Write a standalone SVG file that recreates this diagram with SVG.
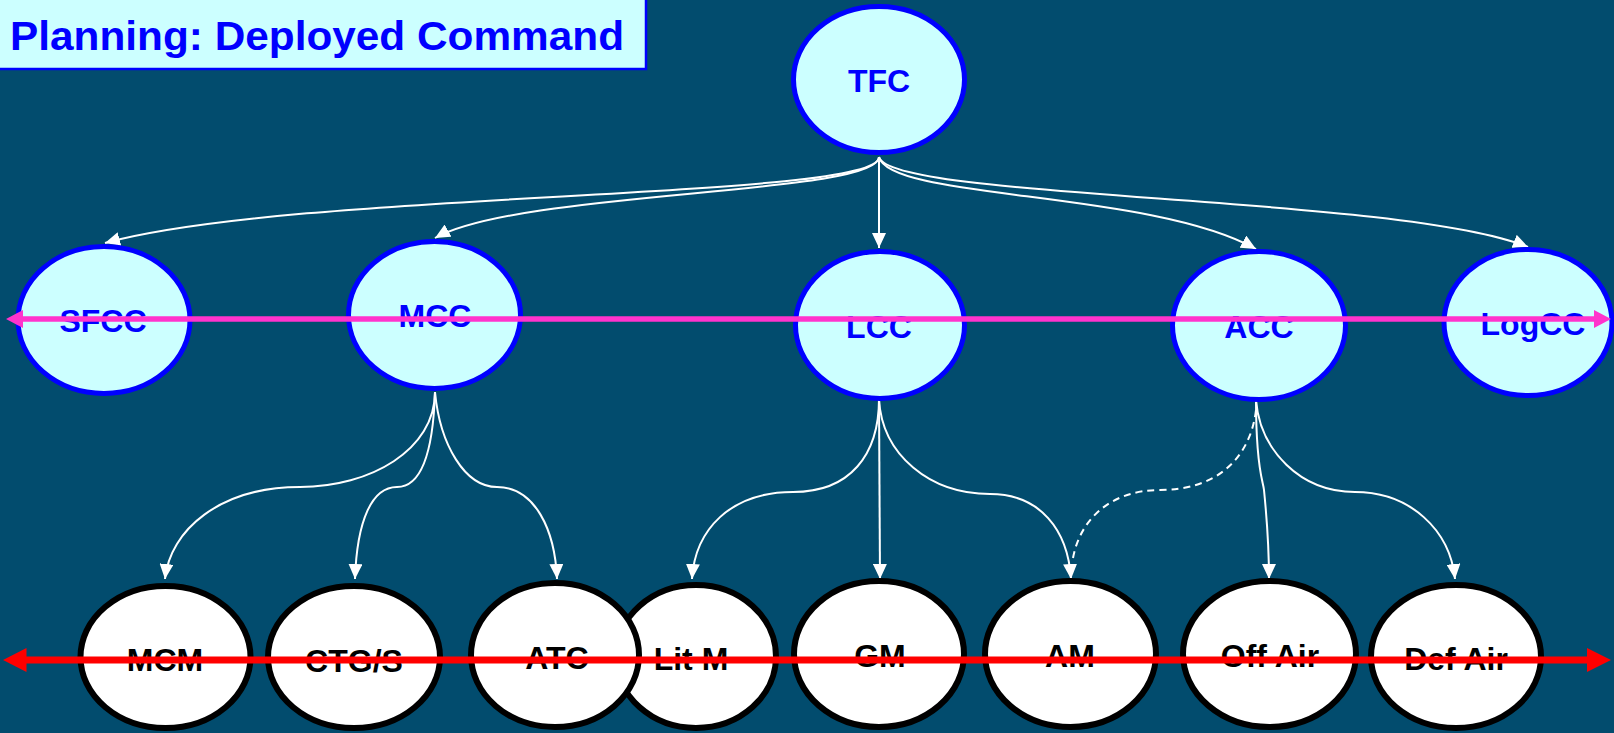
<svg xmlns="http://www.w3.org/2000/svg" width="1614" height="733" viewBox="0 0 1614 733">
<defs>
<style>
.bg{fill:#024C6E}
.top{fill:#CCFFFF;stroke:#0000FF;stroke-width:5}
.bot{fill:#FFFFFF;stroke:#000000;stroke-width:6}
.lt{font-family:"Liberation Sans",Arial,sans-serif;font-weight:bold;font-size:32px;fill:#0000FF;text-anchor:middle}
.lb{font-family:"Liberation Sans",Arial,sans-serif;font-weight:bold;font-size:32px;fill:#000000;text-anchor:middle}
.c{fill:none;stroke:#FFFFFF;stroke-width:2}
.d{stroke-dasharray:7,5}
</style>
<marker id="ah" markerUnits="userSpaceOnUse" markerWidth="15" markerHeight="14" refX="15" refY="7" orient="auto">
<path d="M0,0 L15,7 L0,14 z" fill="#FFFFFF"/>
</marker>
</defs>
<rect class="bg" x="0" y="0" width="1614" height="733"/>

<g id="title">
<rect x="-5" y="-5" width="651" height="74" fill="#CCFFFF" stroke="#0000FF" stroke-width="2.5"/>
<text x="10" y="50" font-family="'Liberation Sans',Arial,sans-serif" font-weight="bold" font-size="40" fill="#0000FF" textLength="614" lengthAdjust="spacingAndGlyphs">Planning: Deployed Command</text>
</g>

<g id="connectors">
<path class="c" marker-end="url(#ah)" d="M879,157 C879,200 300,190 105,243"/>
<path class="c" marker-end="url(#ah)" d="M879,157 C879,195 520,190 435,238"/>
<path class="c" marker-end="url(#ah)" d="M879,157 L879,248"/>
<path class="c" marker-end="url(#ah)" d="M879,157 C890,200 1150,190 1256,249"/>
<path class="c" marker-end="url(#ah)" d="M879,157 C890,200 1400,195 1528,247"/>
<path class="c" marker-end="url(#ah)" d="M435,392 C435,450 370,487 300,487 C220,487 170,530 165,579"/>
<path class="c" marker-end="url(#ah)" d="M435,392 C433,455 420,487 397,487 C372,487 357,520 355,579"/>
<path class="c" marker-end="url(#ah)" d="M435,392 C440,445 465,487 497,487 C535,487 555,530 557,579"/>
<path class="c" marker-end="url(#ah)" d="M879,399 C879,455 850,492 793,492 C730,492 695,530 692,579"/>
<path class="c" marker-end="url(#ah)" d="M879,399 L880,579"/>
<path class="c" marker-end="url(#ah)" d="M879,399 C882,455 930,494 990,494 C1040,494 1068,530 1071,579"/>
<path class="c d" d="M1256,410 C1250,460 1215,490 1160,490 C1110,490 1080,520 1073,558"/>
<path class="c" marker-end="url(#ah)" d="M1256,400 C1256,470 1263,480 1264,490 C1266,510 1269,540 1269,579"/>
<path class="c" marker-end="url(#ah)" d="M1256,400 C1260,450 1300,492 1355,492 C1410,492 1450,530 1455,579"/>
</g>

<g id="TFC"><ellipse class="top" cx="879" cy="79.5" rx="85.5" ry="73"/><text class="lt" x="879" y="92">TFC</text></g>
<g id="SFCC"><ellipse class="top" cx="104" cy="320" rx="86" ry="73.5"/><text class="lt" x="103" y="332">SFCC</text></g>
<g id="MCC"><ellipse class="top" cx="434.5" cy="315" rx="86" ry="73.5"/><text class="lt" x="435" y="327">MCC</text></g>
<g id="LCC"><ellipse class="top" cx="880" cy="325" rx="84.5" ry="73.5"/><text class="lt" x="879" y="338">LCC</text></g>
<g id="ACC"><ellipse class="top" cx="1259" cy="325.5" rx="86.5" ry="74"/><text class="lt" x="1259" y="338">ACC</text></g>
<g id="LogCC"><ellipse class="top" cx="1528" cy="322.5" rx="84" ry="73"/><text class="lt" x="1533" y="335">LogCC</text></g>

<g id="MCM"><ellipse class="bot" cx="165.5" cy="657" rx="85" ry="71"/><text class="lb" x="165" y="671">MCM</text></g>
<g id="CTGS"><ellipse class="bot" cx="354" cy="657" rx="86" ry="71"/><text class="lb" x="354" y="672">CTG/S</text></g>
<g id="LitM"><ellipse class="bot" cx="696" cy="656.5" rx="80" ry="71.5"/><text class="lb" x="691" y="670">Lit M</text></g>
<g id="ATC"><ellipse class="bot" cx="555" cy="655" rx="84" ry="72"/><text class="lb" x="557" y="669">ATC</text></g>
<g id="GM"><ellipse class="bot" cx="879" cy="654" rx="85" ry="73"/><text class="lb" x="880" y="667">GM</text></g>
<g id="AM"><ellipse class="bot" cx="1070.5" cy="654" rx="85.5" ry="73"/><text class="lb" x="1070" y="667">AM</text></g>
<g id="OffAir"><ellipse class="bot" cx="1269.5" cy="654" rx="86.5" ry="73"/><text class="lb" x="1270" y="667">Off Air</text></g>
<g id="DefAir"><ellipse class="bot" cx="1456" cy="656.5" rx="85" ry="71.5"/><text class="lb" x="1456" y="670">Def Air</text></g>

<g id="magenta-arrow">
<line x1="20" y1="319" x2="1597" y2="319" stroke="#FF33CC" stroke-width="5.5"/>
<path d="M6,319 L23,310 L23,328 z" fill="#FF33CC"/>
<path d="M1611,319 L1594,310 L1594,328 z" fill="#FF33CC"/>
</g>
<g id="red-arrow">
<line x1="22" y1="660" x2="1590" y2="660" stroke="#FF0000" stroke-width="7"/>
<path d="M3,660 L26.5,648 L26.5,672 z" fill="#FF0000"/>
<path d="M1611,660 L1587,648 L1587,672 z" fill="#FF0000"/>
</g>
</svg>
